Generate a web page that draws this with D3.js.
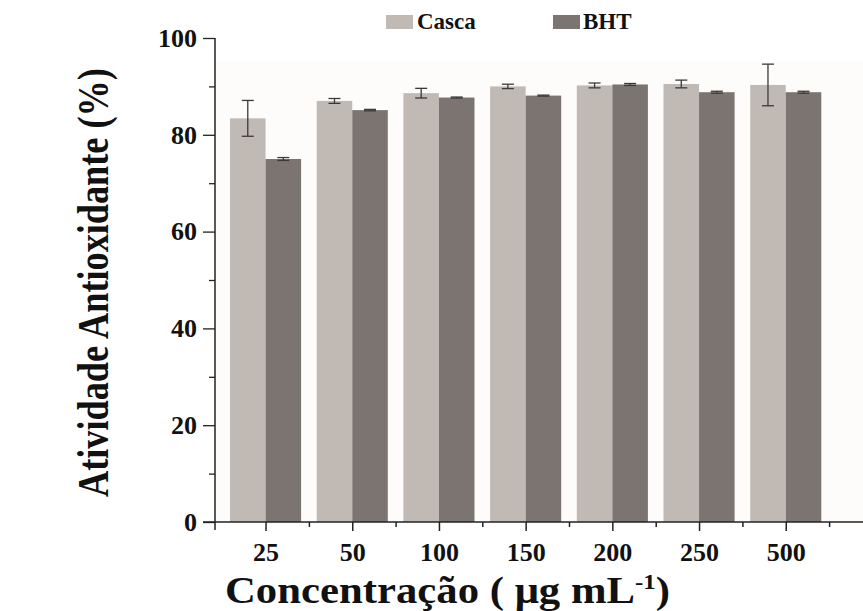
<!DOCTYPE html>
<html>
<head>
<meta charset="utf-8">
<script src="https://cdn.jsdelivr.net/npm/d3@7"></script>
<style>
  html, body { margin: 0; padding: 0; background: #ffffff; }
  svg { display: block; }
  text { font-family: "Liberation Serif", "Times New Roman", serif; font-weight: bold; fill: #111; }
</style>
</head>
<body>
<svg id="chart" width="863" height="611"></svg>
<script>
const categories = ["25", "50", "100", "150", "200", "250", "500"];
const seriesNames = ["Casca", "BHT"];
const cascaValues = [83.4, 87.0, 88.6, 90.0, 90.2, 90.5, 90.3];
const cascaErrors = [3.7, 0.5, 1.0, 0.45, 0.5, 0.8, 4.3];
const bhtValues = [75.0, 85.1, 87.7, 88.1, 90.4, 88.8, 88.8];
const bhtErrors = [0.3, 0.15, 0.1, 0.1, 0.2, 0.2, 0.2];
const yTicks = [0, 20, 40, 60, 80, 100];
const yMinorTicks = [10, 30, 50, 70, 90];
const colors = ["#c1b9b4", "#7c7470"];

const svg = d3.select("#chart");

const x = d3.scaleLinear().domain([-0.5, 6.5]).range([222.2, 829.1]);
const y = d3.scaleLinear().domain([0, 100]).range([522, 38]);
const step = x(1) - x(0);
const barW = step * 0.41;

svg.append("rect").attr("x", 215).attr("y", 62).attr("width", 648).attr("height", 460).attr("fill", "#fdfcfb");

const series = [
  { name: seriesNames[0], values: cascaValues, errors: cascaErrors, color: colors[0], off: -1 },
  { name: seriesNames[1], values: bhtValues, errors: bhtErrors, color: colors[1], off: 0 }
];

series.forEach(s => {
  svg.append("g").selectAll("rect").data(categories).join("rect")
    .attr("x", (d, i) => x(i) + s.off * barW)
    .attr("y", (d, i) => y(s.values[i]))
    .attr("width", barW)
    .attr("height", (d, i) => y(0) - y(s.values[i]))
    .attr("fill", s.color);
});

series.forEach(s => {
  const g = svg.append("g").attr("stroke", "#3a3a3a").attr("stroke-width", 1.3).attr("fill", "none");
  categories.forEach((c, i) => {
    const cx = x(i) + s.off * barW + barW / 2;
    const hi = y(s.values[i] + s.errors[i]);
    const lo = y(s.values[i] - s.errors[i]);
    g.append("line").attr("x1", cx).attr("x2", cx).attr("y1", hi).attr("y2", lo);
    g.append("line").attr("x1", cx - 6).attr("x2", cx + 6).attr("y1", hi).attr("y2", hi);
    g.append("line").attr("x1", cx - 6).attr("x2", cx + 6).attr("y1", lo).attr("y2", lo);
  });
});

// y axis
const yg = svg.append("g").attr("transform", "translate(215,0)")
  .call(d3.axisLeft(y).tickValues(yTicks).tickSize(12).tickPadding(6).tickFormat(d3.format("d")));
yg.select(".domain").remove();
yg.selectAll(".tick line").attr("stroke", "#222").attr("stroke-width", 1.3);
yg.selectAll(".tick text").attr("font-size", 26).attr("font-family", "Liberation Serif").attr("font-weight", "bold").attr("fill", "#111");
const ygm = svg.append("g").attr("transform", "translate(215,0)")
  .call(d3.axisLeft(y).tickValues(yMinorTicks).tickSize(6).tickFormat(""));
ygm.select(".domain").remove();
ygm.selectAll(".tick line").attr("stroke", "#222").attr("stroke-width", 1.3);
svg.append("line").attr("x1", 215).attr("x2", 215).attr("y1", 38).attr("y2", 530).attr("stroke", "#222").attr("stroke-width", 1.5);

// x axis
const xg = svg.append("g").attr("transform", "translate(0,522)")
  .call(d3.axisBottom(x).tickValues(d3.range(categories.length)).tickSize(9).tickPadding(12).tickFormat(i => categories[i]));
xg.select(".domain").remove();
xg.selectAll(".tick line").attr("stroke", "#222").attr("stroke-width", 1.5);
xg.selectAll(".tick text").attr("font-size", 26).attr("font-family", "Liberation Serif").attr("font-weight", "bold").attr("fill", "#111");
const xgm = svg.append("g").attr("transform", "translate(0,522)")
  .call(d3.axisBottom(x).tickValues(d3.range(categories.length).map(i => i + 0.5)).tickSize(5).tickFormat(""));
xgm.select(".domain").remove();
xgm.selectAll(".tick line").attr("stroke", "#222").attr("stroke-width", 1.5);
svg.append("line").attr("x1", 203).attr("x2", 863).attr("y1", 522).attr("y2", 522).attr("stroke", "#222").attr("stroke-width", 1.5);

// x title
const xtG = svg.append("g");
const xt = xtG.append("text").attr("x", 0).attr("y", 0).attr("font-size", 38);
xt.append("tspan").text("Concentração ( μg mL");
xt.append("tspan").attr("font-size", 22).attr("dy", -14).text("-1");
xt.append("tspan").attr("dy", 14).text(")");
const xw = xt.node().getBBox().width;
xtG.attr("transform", `translate(225,603) scale(${445 / xw},1)`);

// y title
const ytG = svg.append("g");
const yt = ytG.append("text").attr("x", 0).attr("y", 0).attr("font-size", 44).text("Atividade Antioxidante (%)");
const yw = yt.node().getBBox().width;
ytG.attr("transform", `translate(108,497) rotate(-90) scale(${429 / yw},1)`);

// legend
const legendPos = [{ sx: 386, tx: 417 }, { sx: 553, tx: 583 }];
series.forEach((s, i) => {
  svg.append("rect").attr("x", legendPos[i].sx).attr("y", 15).attr("width", 27).attr("height", 14).attr("fill", s.color);
  svg.append("text").attr("x", legendPos[i].tx).attr("y", 29).attr("font-size", 23).text(s.name);
});
</script>
</body>
</html>
